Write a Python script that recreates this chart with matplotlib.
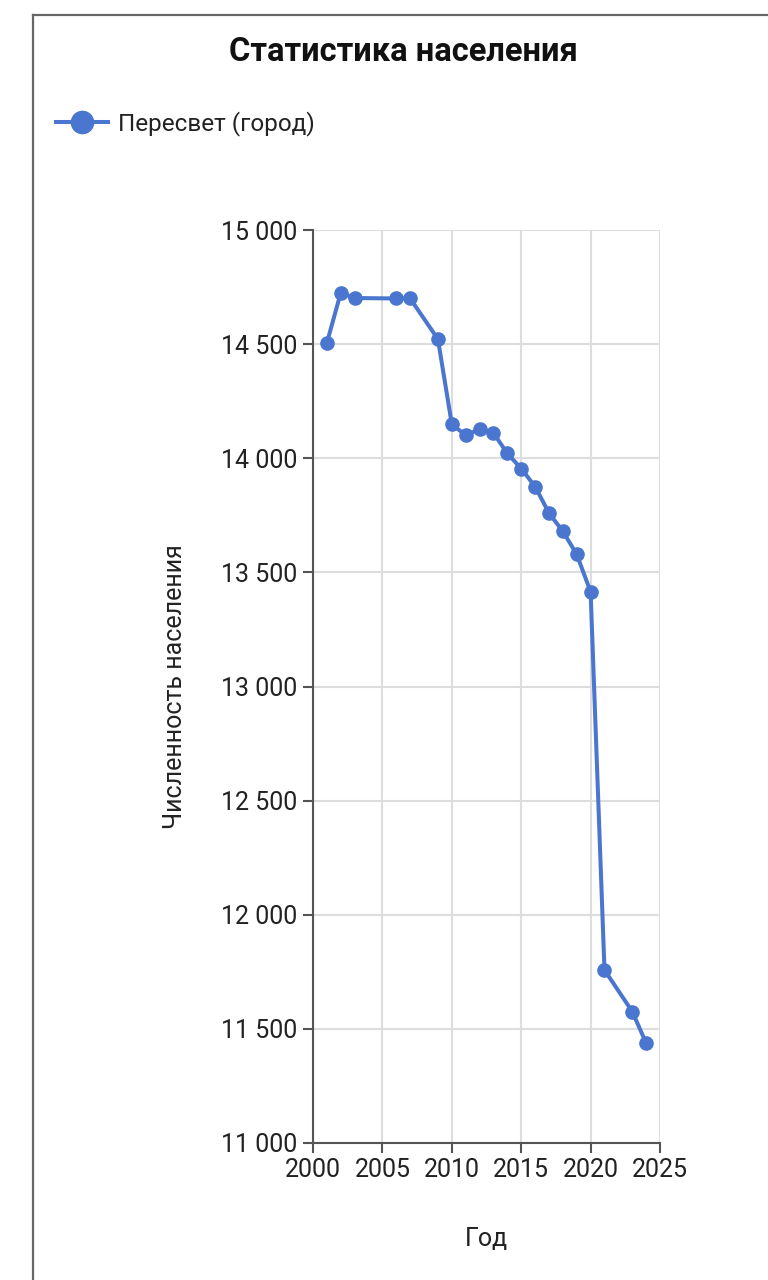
import matplotlib
matplotlib.use("Agg")
import matplotlib.pyplot as plt
from matplotlib.lines import Line2D
from matplotlib.ticker import FuncFormatter, MultipleLocator

plt.rcParams['font.family'] = ['Roboto', 'DejaVu Sans']

years = [2001, 2002, 2003, 2006, 2007, 2009, 2010, 2011, 2012, 2013, 2014,
         2015, 2016, 2017, 2018, 2019, 2020, 2021, 2023, 2024]
population = [14505, 14725, 14702, 14700, 14700, 14522, 14149, 14101, 14127,
              14111, 14021, 13955, 13876, 13760, 13680, 13579, 13415, 11758,
              11576, 11438]
series_name = 'Пересвет (город)'
title = 'Статистика населения'
xlabel = 'Год'
ylabel = 'Численность населения'

blue = '#4a76cf'
axis_col = '#555555'
grid_col = '#dddddd'
text_col = '#222222'

fig = plt.figure(figsize=(7.68, 12.8), dpi=100)
ax = fig.add_axes([313 / 768, 1 - 1143 / 1280, 347 / 768, 913 / 1280])

ax.plot(years, population, color=blue, linewidth=2.9, marker='o',
        markersize=9.5, zorder=3, clip_on=False)

ax.set_xlim(2000, 2025)
ax.set_ylim(11000, 15000)
ax.xaxis.set_major_locator(MultipleLocator(5))
ax.yaxis.set_major_locator(MultipleLocator(500))
ax.yaxis.set_major_formatter(FuncFormatter(lambda v, p: f'{int(v):,}'.replace(',', ' ')))

ax.grid(True, color=grid_col, linewidth=1.5)
ax.set_axisbelow(True)
for s in ['top', 'right']:
    ax.spines[s].set_visible(False)
for s in ['left', 'bottom']:
    ax.spines[s].set_color(axis_col)
    ax.spines[s].set_linewidth(1.5)
ax.tick_params(colors=axis_col, labelcolor=text_col, labelsize=18,
               length=7, width=1.5, pad=4)

ax.set_xlabel(xlabel, fontsize=18, color=text_col, labelpad=32)
ax.set_ylabel(ylabel, fontsize=18, color=text_col, labelpad=25)

fig.text(403 / 768, 1 - 52 / 1280, title, ha='center', va='center',
         fontsize=23.5, fontweight='bold', color='#111111')

handle = Line2D([], [], color=blue, linewidth=2.9, marker='o', markersize=16)
fig.legend([handle], [series_name], loc='center left',
           bbox_to_anchor=(34 / 768, 1 - 124 / 1280), frameon=False,
           fontsize=17.5, handlelength=2.15, handletextpad=0.4,
           labelcolor=text_col)

# outer frame
fig.add_artist(Line2D([33 / 768, 33 / 768], [0, 1 - 15 / 1280],
                      color='#666666', linewidth=1.6))
fig.add_artist(Line2D([33 / 768, 1], [1 - 15 / 1280, 1 - 15 / 1280],
                      color='#666666', linewidth=1.6))

fig.savefig('out.png', dpi=100, facecolor='white')
